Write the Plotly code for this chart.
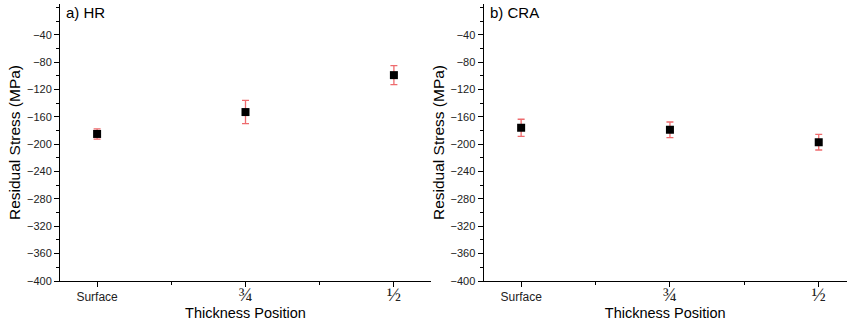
import plotly.graph_objects as go

categories = ["Surface", "¾", "½"]
x_pos = [0, 1, 2]
hr_values = [-185, -153, -99]
hr_errors = [7.5, 17, 14]
cra_values = [-176, -179, -197]
cra_errors = [12.5, 11.5, 11.5]
y_ticks = [-400, -360, -320, -280, -240, -200, -160, -120, -80, -40]
panel_labels = ["a) HR", "b) CRA"]

W, H = 847, 326
FONT = "Liberation Sans, Arial, sans-serif"
ERR_COLOR = "#ee6b6e"

tick_text = [c if c.isalpha() else f'<span style="font-family:Liberation Serif;font-size:19px">{c}</span>'
             for c in categories]

fig = go.Figure()
for i, (vals, errs) in enumerate([(hr_values, hr_errors), (cra_values, cra_errors)]):
    fig.add_trace(go.Scatter(
        x=x_pos, y=vals, mode="markers",
        marker=dict(symbol="square", size=8, color="black"),
        error_y=dict(type="data", array=errs, visible=True, color=ERR_COLOR,
                     thickness=1.3, width=3.5),
        xaxis="x" if i == 0 else "x2", yaxis="y" if i == 0 else "y2",
        showlegend=False,
    ))

axis_common = dict(showline=True, linecolor="black", linewidth=1, showgrid=False,
                   zeroline=False, ticks="outside", tickcolor="black",
                   tickfont=dict(family=FONT, size=11, color="#222"))

xaxis_common = dict(axis_common, tickvals=x_pos, ticktext=tick_text, ticklen=5,
                    tickfont=dict(family=FONT, size=12, color="#222"),
                    minor=dict(tickvals=[0.5, 1.5], ticks="outside", ticklen=3, tickcolor="black"),
                    title=dict(text="Thickness Position", font=dict(family=FONT, size=14.5, color="black"), standoff=1))
yaxis_common = dict(axis_common, range=[-400, 5], tickvals=y_ticks, ticklen=5,
                    minor=dict(dtick=20, tick0=0, ticks="outside", ticklen=3, tickcolor="black"),
                    title=dict(text="Residual Stress (MPa)", font=dict(family=FONT, size=15.5, color="black"), standoff=2))

fig.update_layout(
    width=W, height=H,
    margin=dict(l=0, r=0, t=4, b=45),
    paper_bgcolor="white", plot_bgcolor="white",
    xaxis=dict(xaxis_common, domain=[60 / W, 431 / W], range=[-0.25, 2.25], anchor="y"),
    yaxis=dict(yaxis_common, domain=[0, 1], anchor="x"),
    xaxis2=dict(xaxis_common, domain=[483.5 / W, 1.0], range=[-0.253, 2.19], anchor="y2"),
    yaxis2=dict(yaxis_common, domain=[0, 1], anchor="x2"),
)

for i, lab in enumerate(panel_labels):
    fig.add_annotation(text=lab, xref="x domain" if i == 0 else "x2 domain",
                       yref="paper", x=0.012, y=1.0, xanchor="left", yanchor="top",
                       yshift=2, showarrow=False,
                       font=dict(family=FONT, size=15, color="black"))

fig.write_html("out.html")
